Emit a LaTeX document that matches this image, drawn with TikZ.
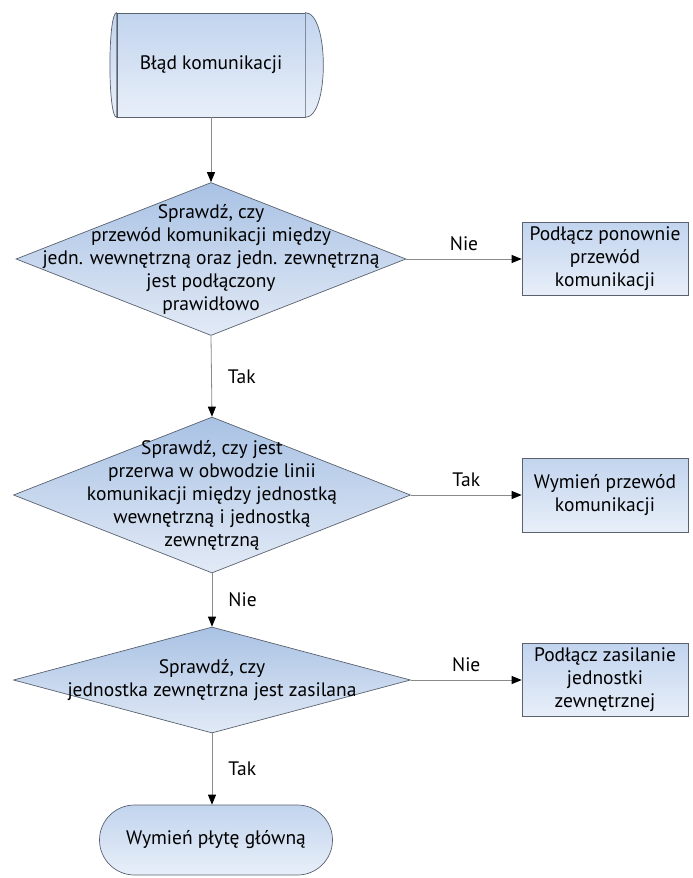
\documentclass[tikz,border=0pt]{standalone}
\usepackage{fontspec}
\setmainfont{PT Sans}
\usetikzlibrary{shapes.geometric,shapes.misc,arrows.meta}

\definecolor{boxtop}{HTML}{C2D4EE}
\definecolor{boxbot}{HTML}{E8EFF9}
\definecolor{dectop}{HTML}{A9C2E4}
\definecolor{decbot}{HTML}{E2EAF6}
\definecolor{edge}{HTML}{5A6270}
\definecolor{wire}{HTML}{8A8A8A}

\tikzset{
  txt/.style={font=\fontsize{19.5}{23}\selectfont, align=center},
  base/.style={draw=edge, line width=0.7pt, inner sep=0pt, txt},
  terminal/.style={base, rounded rectangle, top color=boxtop, bottom color=boxbot},
  decision/.style={base, diamond, top color=dectop, bottom color=decbot},
  action/.style={base, rectangle, top color=boxtop, bottom color=boxbot},
  endcap/.style={draw=edge, line width=0.7pt, top color=boxtop, bottom color=boxbot},
  flow/.style={draw=wire, line width=0.8pt, -{Triangle[length=10pt,width=8pt,color=black]}},
  answer/.style={txt, inner sep=2pt}
}

\begin{document}
\begin{tikzpicture}[x=1pt, y=-1pt]
  \useasboundingbox (0,0) rectangle (693,878);
  \fill[white] (0,0) rectangle (693,878);

  % start and decisions
  \node[action, minimum width=188pt, minimum height=104pt] (start) at (211,65) {Błąd komunikacji};
  \draw[endcap] (start.north west) .. controls ([xshift=-9pt]start.north west) and ([xshift=-9pt]start.south west) .. (start.south west) -- cycle;
  \draw[endcap] (start.north east) .. controls ([xshift=24pt]start.north east) and ([xshift=24pt]start.south east) .. (start.south east) -- cycle;
  \node[decision, minimum width=390pt, minimum height=153pt] (check1) at (211,259) {};
  \node[txt] (check1txt) at (check1) {Sprawdź, czy\\przewód komunikacji między\\jedn. wewnętrzną oraz jedn. zewnętrzną\\jest podłączony\\prawidłowo};
  \node[decision, minimum width=397pt, minimum height=156pt] (check2) at (212,495) {};
  \node[txt] (check2txt) at (check2) {Sprawdź, czy jest\\przerwa w obwodzie linii\\komunikacji między jednostką\\wewnętrzną i jednostką\\zewnętrzną};
  \node[decision, minimum width=397pt, minimum height=106pt] (check3) at (212,680) {};
  \node[txt] (check3txt) at (check3) {Sprawdź, czy\\jednostka zewnętrzna jest zasilana};
  \node[terminal, minimum width=233pt, minimum height=70pt] (finish) at (216,840) {Wymień płytę główną};

  % actions
  \node[action, minimum width=166pt, minimum height=73pt] (fix1) at (605,259) {Podłącz ponownie\\przewód\\komunikacji};
  \node[action, minimum width=166pt, minimum height=74pt] (fix2) at (605,495) {Wymień przewód\\komunikacji};
  \node[action, minimum width=166pt, minimum height=73pt] (fix3) at (605,680) {Podłącz zasilanie\\jednostki\\zewnętrznej};

  % connectors
  \draw[flow] (start.south -| check1.north) -- (check1.north);
  \draw[flow] (check1) -- node[answer, above=6pt] (no1) {Nie} (fix1);
  \draw[flow] (check1.south) -- node[answer, right=14pt] (yes1) {Tak} (check2.north);
  \draw[flow] (check2) -- node[answer, above=6pt] (yes2) {Tak} (fix2);
  \draw[flow] (check2.south) -- node[answer, right=14pt] (no2) {Nie} (check3.north);
  \draw[flow] (check3) -- node[answer, above=6pt] (no3) {Nie} (fix3);
  \draw[flow] (check3.south) -- node[answer, right=14pt] (yes3) {Tak} (check3.south |- finish.north);
\end{tikzpicture}
\end{document}
